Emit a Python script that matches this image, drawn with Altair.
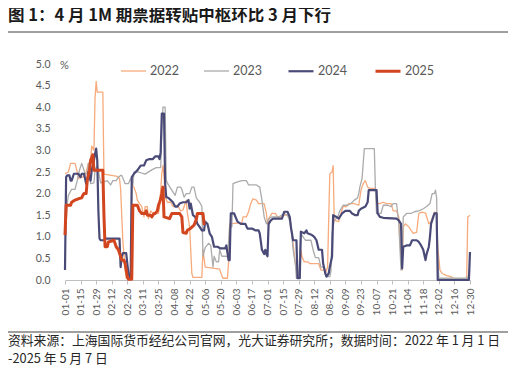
import altair as alt
import pandas as pd

# ---------------- data ----------------
years = ["2022", "2023", "2024", "2025"]
colors = ["#F7AB7C", "#ABABAB", "#4A4A78", "#D2461F"]
widths = [1.3, 1.3, 2.2, 3.0]

tick_days = [0, 14, 28, 42, 56, 70, 84, 98, 112, 126, 140, 154, 168, 182,
             196, 210, 224, 238, 252, 266, 280, 294, 308, 322, 336, 350, 364]
tick_labels = ["01-01", "01-15", "01-29", "02-12", "02-26", "03-11", "03-25",
               "04-08", "04-22", "05-06", "05-20", "06-03", "06-17", "07-01",
               "07-15", "07-29", "08-12", "08-26", "09-09", "09-23", "10-07",
               "10-21", "11-04", "11-18", "12-02", "12-16", "12-30"]
y_ticks = [0.0, 0.5, 1.0, 1.5, 2.0, 2.5, 3.0, 3.5, 4.0, 4.5, 5.0]

day_2022 = [0, 3, 5, 9, 11, 12, 18, 21, 23, 24, 26, 27, 28, 29, 34, 35, 47, 49, 50, 51,
            52, 54, 55, 59, 60, 62, 64, 65, 67, 69, 71, 72, 74, 75, 77, 79, 84, 85, 87, 88,
            89, 90, 92, 95, 97, 101, 104, 106, 108, 109, 110, 112, 114, 115, 123, 124, 126, 139, 141, 142,
            146, 147, 148, 159, 160, 163, 165, 167, 169, 172, 174, 179, 181, 182, 184, 186, 189, 191, 195, 197,
            200, 202, 203, 205, 207, 209, 211, 212, 213, 215, 218, 220, 228, 230, 233, 234, 236, 237, 238, 240,
            241, 242, 246, 248, 250, 253, 255, 260, 264, 266, 268, 270, 272, 274, 279, 281, 283, 286, 289, 293,
            295, 298, 300, 301, 303, 304, 306, 309, 311, 313, 316, 318, 321, 324, 327, 329, 332, 334, 335, 337,
            339, 343, 347, 349, 361, 362, 364]
rate_2022 = [2.46, 2.5, 2.7, 2.7, 2.5, 2.35, 2.4, 2.7, 2.75, 3.1, 3.0, 4.2, 4.6, 4.35, 4.35, 2.45, 2.4, 2.35, 2.1, 1.5,
             0.9, 0.25, 0.04, 0.04, 2.2, 2.15, 2.0, 1.85, 1.77, 1.7, 1.46, 1.7, 1.7, 1.42, 1.6, 1.54, 1.54, 1.7, 2.46, 2.65,
             2.4, 1.92, 1.8, 1.8, 1.7, 1.73, 1.6, 1.62, 1.77, 1.85, 1.54, 1.23, 0.15, 0.06, 0.06, 0.7, 0.3, 0.25, 0.1, 0.04,
             0.04, 0.4, 1.3, 1.33, 1.46, 1.46, 1.58, 1.77, 1.88, 1.85, 1.77, 1.77, 1.54, 1.3, 1.46, 1.54, 1.54, 1.46, 1.46, 1.5,
             1.5, 1.42, 1.23, 0.85, 0.38, 0.04, 0.04, 0.7, 0.54, 0.42, 0.42, 0.38, 0.38, 0.23, 0.23, 0.15, 0.3, 1.4, 2.46, 2.5,
             2.65, 1.38, 1.35, 1.54, 1.7, 1.7, 1.77, 1.77, 1.73, 2.08, 2.23, 2.3, 2.15, 2.12, 2.12, 1.77, 1.77, 1.8, 1.77, 1.77,
             1.6, 1.6, 1.46, 0.85, 0.23, 1.23, 1.3, 1.23, 1.15, 1.08, 1.1, 1.54, 1.57, 1.55, 1.3, 1.35, 1.57, 1.55, 0.77, 0.23,
             0.15, 0.1, 0.08, 0.03, 0.03, 1.46, 1.5]

day_2023 = [1, 2, 3, 6, 9, 11, 13, 15, 17, 18, 20, 21, 22, 23, 26, 27, 29, 30, 32, 35,
            38, 41, 43, 46, 48, 50, 51, 53, 54, 57, 59, 61, 62, 66, 72, 78, 82, 86, 87, 88,
            90, 91, 93, 96, 99, 101, 104, 105, 107, 109, 112, 114, 116, 118, 121, 123, 124, 126, 129, 131,
            133, 134, 136, 138, 139, 141, 144, 146, 148, 150, 151, 155, 159, 163, 165, 172, 175, 177, 179, 181,
            183, 186, 192, 197, 200, 203, 205, 207, 208, 210, 212, 214, 216, 221, 223, 225, 228, 230, 233, 235,
            238, 239, 240, 242, 245, 247, 250, 254, 257, 260, 263, 264, 265, 267, 269, 278, 279, 280, 284, 286,
            290, 293, 295, 298, 300, 302, 303, 304, 307, 311, 314, 318, 322, 325, 328, 330, 332, 333, 334, 335,
            336, 362, 363, 364]
rate_2023 = [1.3, 1.77, 1.96, 2.1, 2.1, 2.3, 2.54, 2.7, 2.55, 2.46, 2.46, 2.7, 2.6, 2.23, 2.25, 2.54, 2.65, 2.54, 2.25, 2.27,
             2.3, 2.2, 2.3, 2.3, 2.38, 2.42, 2.42, 2.3, 2.23, 2.23, 2.35, 2.2, 2.5, 2.5, 2.45, 2.55, 2.6, 2.6, 3.5, 4.0,
             4.0, 2.3, 2.2, 2.08, 1.96, 2.15, 2.15, 2.1, 1.92, 2.0, 2.0, 2.15, 2.15, 1.9, 1.8, 1.7, 0.55, 0.75, 0.85, 0.8,
             0.3, 0.55, 0.42, 0.42, 0.7, 0.55, 0.55, 0.54, 1.23, 1.23, 2.23, 2.27, 2.3, 2.3, 2.2, 2.2, 2.15, 1.85, 1.46, 1.3,
             1.42, 1.46, 1.46, 1.54, 1.5, 1.3, 0.7, 0.38, 0.04, 0.04, 1.08, 1.0, 0.92, 0.92, 0.7, 0.52, 0.52, 0.3, 0.3, 0.08,
             0.08, 0.2, 1.08, 1.38, 1.45, 1.6, 1.73, 1.73, 1.77, 1.85, 1.9, 2.0, 2.15, 2.35, 3.04, 3.04, 2.08, 1.54, 1.54, 1.73,
             1.73, 1.7, 1.77, 1.77, 1.3, 0.23, 0.35, 1.46, 1.54, 1.54, 1.58, 1.6, 1.65, 1.7, 1.77, 2.0, 2.0, 2.08, 1.9, 0.5,
             0.04, 0.04, 0.15, 0.2]

day_2024 = [0, 1, 2, 4, 5, 6, 7, 8, 12, 14, 15, 17, 18, 19, 20, 21, 23, 24, 26, 27,
            28, 29, 30, 31, 32, 35, 36, 49, 50, 51, 52, 55, 56, 57, 59, 60, 62, 65, 68, 71,
            73, 76, 79, 81, 84, 85, 86, 87, 89, 90, 91, 93, 95, 97, 99, 101, 103, 106, 109, 111,
            112, 113, 115, 117, 119, 121, 123, 125, 126, 128, 130, 132, 134, 137, 140, 144, 145, 147, 148, 149,
            152, 155, 158, 162, 164, 168, 171, 174, 175, 177, 179, 180, 181, 182, 183, 185, 187, 195, 197, 200,
            202, 203, 205, 208, 209, 211, 212, 215, 217, 218, 222, 224, 226, 228, 231, 232, 234, 235, 237, 238,
            240, 241, 244, 246, 249, 252, 256, 258, 261, 263, 264, 266, 270, 272, 273, 280, 281, 283, 286, 298,
            300, 302, 303, 304, 307, 310, 312, 316, 318, 320, 322, 324, 325, 327, 328, 329, 331, 332, 334, 335,
            363, 364]
rate_2024 = [0.23, 2.38, 2.42, 2.42, 2.3, 2.3, 2.38, 2.46, 2.46, 2.38, 2.46, 2.46, 2.35, 2.23, 2.3, 2.5, 2.3, 2.54, 2.77, 2.92,
             3.04, 2.77, 1.6, 0.96, 0.92, 0.92, 0.96, 0.96, 0.3, 0.54, 0.62, 0.62, 0.38, 0.15, 0.04, 2.38, 2.46, 2.54, 2.65, 2.65,
             2.77, 2.8, 2.8, 2.86, 2.86, 2.8, 2.96, 3.85, 3.85, 2.23, 1.92, 1.9, 1.85, 1.8, 1.7, 1.7, 1.77, 1.8, 1.8, 1.85,
             1.65, 1.77, 1.5, 1.46, 1.3, 1.23, 1.15, 1.15, 1.35, 1.3, 1.08, 1.0, 0.77, 0.77, 0.73, 0.73, 0.8, 0.46, 0.46, 1.54,
             1.54, 1.35, 1.3, 1.3, 1.19, 1.19, 1.15, 1.15, 1.08, 0.7, 0.6, 0.7, 0.6, 0.55, 1.3, 1.38, 1.42, 1.42, 1.58, 1.58,
             1.46, 1.23, 0.92, 0.92, 0.04, 0.04, 1.12, 1.08, 1.15, 1.08, 1.04, 1.0, 0.92, 0.7, 0.7, 0.38, 0.15, 0.08, 0.15, 0.3,
             0.54, 1.5, 1.46, 1.42, 1.54, 1.6, 1.6, 1.54, 1.5, 1.5, 1.6, 1.65, 1.7, 1.8, 2.08, 2.08, 1.54, 1.46, 1.44, 1.42,
             1.38, 1.3, 0.27, 0.77, 0.8, 0.8, 0.92, 0.92, 0.88, 0.8, 0.7, 0.46, 0.6, 0.77, 1.0, 1.3, 1.46, 1.54, 1.54, 0.0,
             0.0, 0.65]

day_2025 = [0, 1, 5, 6, 9, 12, 15, 16, 17, 19, 20, 22, 23, 25, 26, 34, 35, 36, 38, 39,
            44, 46, 48, 49, 51, 53, 54, 55, 56, 57, 60, 61, 65, 67, 69, 72, 73, 74, 77, 78,
            80, 81, 83, 84, 85, 86, 87, 88, 89, 94, 96, 103, 105, 106, 109, 110, 113, 116, 118, 119,
            124, 125, 126]
rate_2025 = [1.04, 1.73, 1.73, 1.8, 1.85, 1.88, 1.9, 1.96, 2.0, 2.0, 2.3, 2.54, 2.77, 2.9, 2.54, 2.54, 1.5, 0.77, 0.77, 0.88,
             0.92, 0.77, 0.7, 0.62, 0.46, 0.46, 0.38, 0.23, 0.08, 0.02, 0.02, 1.73, 1.73, 1.6, 1.54, 1.54, 1.6, 1.5, 1.5, 1.46,
             1.54, 1.54, 1.6, 1.73, 1.8, 1.88, 2.0, 2.15, 1.46, 1.42, 1.54, 1.54, 1.46, 1.1, 1.08, 1.15, 1.2, 1.27, 1.4, 1.54,
             1.54, 1.3, 1.3]

title_text = "图 1：4 月 1M 期票据转贴中枢环比 3 月下行"
source_line1 = "资料来源：上海国际货币经纪公司官网，光大证券研究所；数据时间：2022 年 1 月 1 日"
source_line2 = "-2025 年 5 月 7 日"
unit_text = "%"

# ---------------- table ----------------
rows = []
for yr, ds, vs in zip(years, [day_2022, day_2023, day_2024, day_2025],
                      [rate_2022, rate_2023, rate_2024, rate_2025]):
    for i, (d, v) in enumerate(zip(ds, vs)):
        rows.append({"year": yr, "day": d, "rate": v, "i": i})
df = pd.DataFrame(rows)

label_expr = "[" + ",".join("'" + t + "'" for t in tick_labels) + "][round(datum.value / 14)]"

GRAY = "#595959"
AX = "#BFBFBF"
CJK = "Noto Sans CJK SC"

legend_cfg = dict(title=None, orient="none", legendX=55, legendY=-7,
                  direction="horizontal", symbolType="stroke",
                  symbolSize=625, labelFont="Lato", labelFontSize=12.5,
                  labelColor=GRAY, labelOffset=3, columnPadding=22)

lines = alt.Chart(df).mark_line(strokeJoin="round").encode(
    x=alt.X("day:Q",
            scale=alt.Scale(domain=[0, 364], nice=False, zero=False),
            axis=alt.Axis(values=tick_days, labelExpr=label_expr, title=None,
                          labelAngle=270, labelAlign="right", labelBaseline="middle",
                          labelPadding=4, tickSize=4, tickColor=AX, domainColor=AX,
                          labelColor=GRAY, labelFont="Lato", labelFontSize=10,
                          grid=False, labelOverlap=False)),
    y=alt.Y("rate:Q",
            scale=alt.Scale(domain=[0, 5], nice=False),
            axis=alt.Axis(values=y_ticks, format=".1f", title=None, domain=False,
                          ticks=False, grid=False, labelPadding=15, labelColor=GRAY,
                          labelFont="Lato", labelFontSize=10.5)),
    color=alt.Color("year:N", scale=alt.Scale(domain=years, range=colors),
                    legend=alt.Legend(**legend_cfg)),
    strokeWidth=alt.StrokeWidth("year:N", scale=alt.Scale(type="ordinal", domain=years, range=widths),
                                legend=alt.Legend(**legend_cfg)),
    order="i:Q",
)

one = pd.DataFrame({"k": [0]})

title = alt.Chart(pd.DataFrame({"t": [title_text]})).mark_text(
    align="left", baseline="alphabetic", font=CJK, fontSize=16.5, fontWeight="bold", color="#1a1a1a"
).encode(text="t:N", x=alt.value(-57), y=alt.value(-43))

top_rule = alt.Chart(one).mark_rule(color="#404040", strokeWidth=1).encode(
    x=alt.value(-57), x2=alt.value(443), y=alt.value(-32))

bottom_rule = alt.Chart(one).mark_rule(color="#404040", strokeWidth=1).encode(
    x=alt.value(-57), x2=alt.value(443), y=alt.value(268))

src1 = alt.Chart(pd.DataFrame({"t": [source_line1]})).mark_text(
    align="left", baseline="middle", font=CJK, fontSize=12.8, color="#262626"
).encode(text="t:N", x=alt.value(-57), y=alt.value(277))

src2 = alt.Chart(pd.DataFrame({"t": [source_line2]})).mark_text(
    align="left", baseline="middle", font=CJK, fontSize=12.8, color="#262626"
).encode(text="t:N", x=alt.value(-57), y=alt.value(295))

unit = alt.Chart(pd.DataFrame({"t": [unit_text]})).mark_text(
    align="left", baseline="middle", font="Lato", fontSize=11, color=GRAY
).encode(text="t:N", x=alt.value(-5), y=alt.value(2))

chart = alt.layer(lines, title, top_rule, bottom_rule, src1, src2, unit).properties(
    width=405, height=216,
    padding={"left": 57, "top": 56, "right": 38, "bottom": 88},
    autosize=alt.AutoSizeParams(type="none"),
).configure_view(stroke="transparent")

chart.save("out.html", embed_options={"renderer": "svg", "actions": False})
